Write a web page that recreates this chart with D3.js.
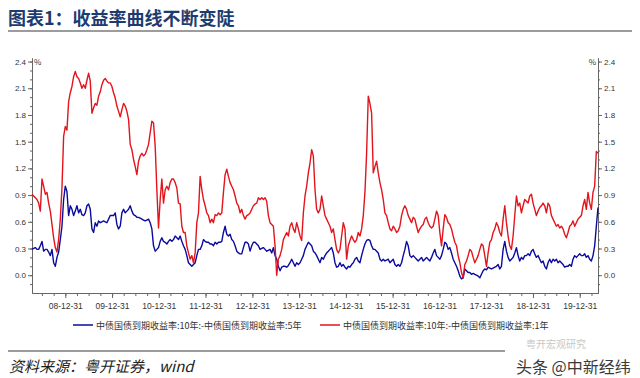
<!DOCTYPE html>
<html>
<head>
<meta charset="utf-8">
<script src="https://cdn.jsdelivr.net/npm/d3@7"></script>
<style>
  body { margin: 0; background: #fff; }
  svg { display: block; font-family: "Noto Sans CJK SC", "Noto Sans", sans-serif; }
</style>
</head>
<body>
<svg width="640" height="378"></svg>
<script>
const width = 640;
const height = 378;

const title = "图表1：收益率曲线不断变陡";
const source = "资料来源：粤开证券，wind";
const seriesNames = [
    "中债国债到期收益率:10年:-中债国债到期收益率:5年",
    "中债国债到期收益率:10年:-中债国债到期收益率:1年"
];
const yTicks = [0.0, 0.3, 0.6, 0.9, 1.2, 1.5, 1.8, 2.1, 2.4];
const xTickDates = ["2008-12-31", "2009-12-31", "2010-12-31", "2011-12-31", "2012-12-31", "2013-12-31",
    "2014-12-31", "2015-12-31", "2016-12-31", "2017-12-31", "2018-12-31", "2019-12-31"];

// one reading every 13 days, starting 2008-04-15
const startDate = "2008-04-15";
const stepDays = 13;

// 10y - 5y spread (%)
const spread10y5y = [
    0.29,0.30,0.31,0.29,0.29,0.33,0.38,0.27,0.29,0.29,
    0.26,0.22,0.29,0.14,0.10,0.20,0.26,0.40,0.55,0.85,
    1.00,0.94,0.67,0.78,0.74,0.67,0.72,0.78,0.70,0.74,
    0.68,0.67,0.70,0.78,0.80,0.74,0.52,0.48,0.59,0.55,
    0.61,0.59,0.60,0.61,0.60,0.59,0.63,0.67,0.67,0.67,
    0.70,0.57,0.52,0.55,0.70,0.74,0.70,0.72,0.74,0.78,
    0.72,0.68,0.67,0.65,0.65,0.64,0.63,0.62,
    0.61,0.62,0.63,0.59,0.52,0.33,0.27,0.29,0.31,0.38,
    0.42,0.38,0.37,0.35,0.38,0.40,0.38,0.40,0.44,0.42,
    0.40,0.44,0.38,0.33,0.29,0.22,0.14,0.12,0.10,0.12,
    0.14,0.22,0.29,0.29,0.33,0.40,0.38,0.37,0.37,0.35,
    0.35,0.33,0.37,0.35,0.37,0.37,0.38,0.48,0.55,0.46,
    0.44,0.46,0.40,0.38,0.33,0.27,0.25,0.24,0.24,0.31,
    0.37,0.37,0.35,0.27,0.33,0.37,0.37,0.35,0.33,
    0.29,0.30,0.31,0.29,0.27,0.28,0.29,0.25,0.31,0.22,
    0.18,0.10,0.05,0.09,0.10,0.10,0.09,0.11,0.14,0.18,
    0.14,0.10,0.14,0.12,0.14,0.18,0.22,0.29,0.33,0.37,
    0.35,0.33,0.27,0.25,0.22,0.18,0.14,0.20,0.18,0.22,
    0.25,0.27,0.29,0.31,0.25,0.14,0.09,0.10,0.14,0.10,
    0.12,0.09,0.07,0.10,0.09,0.12,0.14,0.18,0.20,0.16,
    0.14,0.22,0.29,0.35,0.39,0.40,0.39,0.33,0.29,
    0.29,0.27,0.25,0.18,0.16,0.18,0.16,0.17,0.18,0.14,
    0.16,0.18,0.12,0.10,0.12,0.10,0.14,0.22,0.29,0.38,
    0.33,0.22,0.20,0.22,0.20,0.18,0.16,0.18,0.20,0.16,
    0.18,0.20,0.18,0.16,0.20,0.25,0.29,0.22,0.20,0.18,
    0.22,0.29,0.37,0.35,0.29,0.31,0.25,0.18,0.14,0.10,
    0.05,-0.01,-0.04,-0.03,0.07,0.05,0.03,0.03,0.01,0.02,
    0.01,0.00,-0.01,-0.03,0.01,0.05,0.07,0.06,
    0.09,0.08,0.07,0.08,0.09,0.10,0.12,0.07,0.10,0.29,
    0.38,0.27,0.20,0.16,0.18,0.20,0.25,0.31,0.22,0.16,
    0.20,0.18,0.22,0.22,0.24,0.22,0.27,0.29,0.24,0.20,
    0.22,0.18,0.14,0.16,0.10,0.07,0.14,0.18,0.14,0.18,
    0.16,0.18,0.14,0.16,0.14,0.12,0.09,0.10,0.10,0.12,
    0.10,0.18,0.22,0.20,0.22,0.24,0.22,0.22,0.24,0.20,
    0.22,0.18,0.16,0.22,0.33,0.55,0.76
];

// 10y - 1y spread (%)
const spread10y1y = [
    0.91,0.89,0.87,0.85,0.81,0.72,1.08,1.00,0.91,0.93,
    0.81,0.72,0.57,0.42,0.31,0.26,0.40,0.63,0.98,1.56,
    1.67,1.63,1.95,2.05,2.12,2.23,2.29,2.23,2.21,2.16,
    2.10,2.14,2.10,2.19,2.27,2.18,1.82,1.88,1.93,1.91,
    2.01,2.06,2.14,2.19,2.21,2.18,2.16,2.16,2.12,2.05,
    1.99,1.90,1.84,1.78,1.86,1.93,1.90,1.84,1.75,1.47,
    1.41,1.30,1.22,1.13,1.28,1.34,1.37,1.34,
    1.36,1.41,1.47,1.60,1.73,1.71,1.45,0.96,0.53,0.85,
    1.08,0.81,0.96,1.00,0.96,1.04,1.08,1.08,1.04,0.98,
    0.81,0.80,0.55,0.48,0.48,0.33,0.25,0.18,0.22,0.14,
    0.25,0.59,0.70,1.11,0.96,0.85,0.78,0.70,0.67,0.59,
    0.63,0.59,0.68,0.67,0.70,0.68,0.70,0.93,1.13,1.19,
    1.11,1.04,1.00,0.96,0.89,0.81,0.78,0.70,0.74,0.67,
    0.63,0.67,0.68,0.70,0.74,0.78,0.80,0.81,0.87,
    0.85,0.87,0.85,0.87,0.83,0.67,0.59,0.57,0.55,0.33,
    0.00,0.18,0.22,0.29,0.40,0.44,0.48,0.44,0.55,0.59,
    0.52,0.48,0.59,0.52,0.44,0.39,0.70,0.89,1.00,1.15,
    1.26,1.41,1.34,0.96,0.74,0.70,0.74,0.89,0.78,0.67,
    0.63,0.59,0.55,0.48,0.52,0.40,0.29,0.25,0.29,0.44,
    0.59,0.52,0.18,0.33,0.39,0.44,0.40,0.37,0.40,0.48,
    0.44,0.52,0.67,0.93,1.37,2.01,1.93,1.82,1.15,
    1.22,1.28,1.15,1.04,0.96,0.85,0.70,0.67,0.59,0.52,
    0.50,0.55,0.52,0.48,0.50,0.55,0.67,0.74,0.78,0.74,
    0.67,0.63,0.59,0.65,0.63,0.55,0.48,0.52,0.55,0.57,
    0.63,0.65,0.59,0.55,0.53,0.55,0.63,0.72,0.67,0.48,
    0.33,0.52,0.68,0.65,0.59,0.57,0.52,0.44,0.37,0.33,
    0.22,0.14,0.03,-0.03,0.12,0.16,0.22,0.29,0.27,0.20,
    0.14,0.18,0.22,0.29,0.35,0.33,0.22,0.10,
    0.25,0.37,0.40,0.48,0.52,0.59,0.55,0.48,0.44,0.63,
    0.78,0.59,0.44,0.33,0.29,0.44,0.67,0.89,0.78,0.81,
    0.70,0.78,0.85,0.83,0.81,0.89,0.91,0.81,0.74,0.67,
    0.72,0.76,0.78,0.81,0.78,0.70,0.81,0.78,0.67,0.63,
    0.59,0.55,0.57,0.53,0.55,0.52,0.46,0.42,0.48,0.55,
    0.57,0.61,0.55,0.59,0.63,0.65,0.67,0.78,0.85,0.74,
    0.93,0.81,0.74,0.93,1.00,1.39,1.37
];

const colors = ["#0a0a9e", "#e3141b"];

const svg = d3.select('svg');
const parseDate = d3.timeParse("%Y-%m-%d");
const start = parseDate(startDate);
const dates = spread10y1y.map((d, i) => d3.timeDay.offset(start, i * stepDays));

const plot = { left: 32, right: 598, top: 58, bottom: 293 };

const xScale = d3.scaleTime()
    .domain(d3.extent(dates))
    .range([plot.left, plot.right]);

const yScale = d3.scaleLinear()
    .domain([-0.2, 2.44])
    .range([plot.bottom, plot.top]);

// title + rule
svg.append('text')
    .text(title)
    .attr('x', 8)
    .attr('y', 25)
    .attr('font-size', 18)
    .attr('font-weight', 'bold')
    .attr('fill', '#1c3c70');

svg.append('line')
    .attr('x1', 8).attr('x2', 632)
    .attr('y1', 31).attr('y2', 31)
    .attr('stroke', '#9c9c9c')
    .attr('stroke-width', 2);

// axes
const minorY = d3.range(-1, 25).map(d => d / 10);
const axisColor = '#666';

const styleAxis = g => {
    g.selectAll('path, line').attr('stroke', axisColor);
    g.selectAll('text').attr('fill', '#333').attr('font-size', 8);
};

svg.append('g')
    .attr('transform', `translate(${plot.left},0)`)
    .call(d3.axisLeft(yScale).tickValues(minorY).tickSize(2).tickSizeOuter(0).tickFormat(''))
    .call(styleAxis);
svg.append('g')
    .attr('transform', `translate(${plot.left},0)`)
    .call(d3.axisLeft(yScale).tickValues(yTicks).tickSize(4).tickSizeOuter(0).tickPadding(2).tickFormat(d3.format('.1f')))
    .call(styleAxis);

svg.append('g')
    .attr('transform', `translate(${plot.right},0)`)
    .call(d3.axisRight(yScale).tickValues(minorY).tickSize(2).tickSizeOuter(0).tickFormat(''))
    .call(styleAxis);
svg.append('g')
    .attr('transform', `translate(${plot.right},0)`)
    .call(d3.axisRight(yScale).tickValues(yTicks).tickSize(4).tickSizeOuter(0).tickPadding(2).tickFormat(d3.format('.1f')))
    .call(styleAxis);

svg.append('text').text('%')
    .attr('x', plot.left + 2).attr('y', yScale(2.4) + 3)
    .attr('font-size', 8).attr('fill', '#333');
svg.append('text').text('%')
    .attr('x', plot.right - 2).attr('y', yScale(2.4) + 3)
    .attr('text-anchor', 'end')
    .attr('font-size', 8).attr('fill', '#333');

svg.append('g')
    .attr('transform', `translate(0,${plot.bottom})`)
    .call(d3.axisBottom(xScale).ticks(d3.timeMonth.every(3)).tickSize(3).tickSizeOuter(0).tickFormat(''))
    .call(styleAxis);
svg.append('g')
    .attr('transform', `translate(0,${plot.bottom})`)
    .call(d3.axisBottom(xScale)
        .tickValues(xTickDates.map(parseDate))
        .tickSize(5)
        .tickSizeOuter(0)
        .tickPadding(5)
        .tickFormat(d3.timeFormat('%y-%m-%d')))
    .call(styleAxis)
    .call(g => g.selectAll('text').attr('font-size', 8.5));

// lines
const line = d3.line()
    .x((d, i) => xScale(dates[i]))
    .y(d => yScale(d));

[spread10y5y, spread10y1y].forEach((series, k) => {
    svg.append('path')
        .datum(series)
        .attr('d', line)
        .attr('fill', 'none')
        .attr('stroke', colors[k])
        .attr('stroke-width', 1.4)
        .attr('stroke-linejoin', 'round');
});

// legend
const legendX = [73, 320];
seriesNames.forEach((name, k) => {
    const lg = svg.append('g').attr('transform', `translate(${legendX[k]},325)`);
    lg.append('line')
        .attr('x1', 0).attr('x2', 20)
        .attr('stroke', colors[k])
        .attr('stroke-width', 1.5);
    lg.append('text')
        .text(name)
        .attr('x', 23)
        .attr('y', 3.5)
        .attr('font-size', 9)
        .attr('fill', '#333');
});

// footer
svg.append('line')
    .attr('x1', 8).attr('x2', 505)
    .attr('y1', 351).attr('y2', 351)
    .attr('stroke', '#9c9c9c')
    .attr('stroke-width', 2);

svg.append('text')
    .text(source)
    .attr('x', 9)
    .attr('y', 372)
    .attr('font-size', 15)
    .attr('font-style', 'italic')
    .attr('fill', '#222');

// watermark
svg.append('text')
    .text('粤开宏观研究')
    .attr('x', 526)
    .attr('y', 348)
    .attr('font-size', 10)
    .attr('fill', '#c8c8c8');

svg.append('text')
    .text('头条 @中新经纬')
    .attr('x', 516)
    .attr('y', 373)
    .attr('font-size', 16)
    .attr('fill', '#3a3a3a')
    .attr('stroke', '#fff')
    .attr('stroke-width', 2)
    .attr('paint-order', 'stroke');
</script>
</body>
</html>
